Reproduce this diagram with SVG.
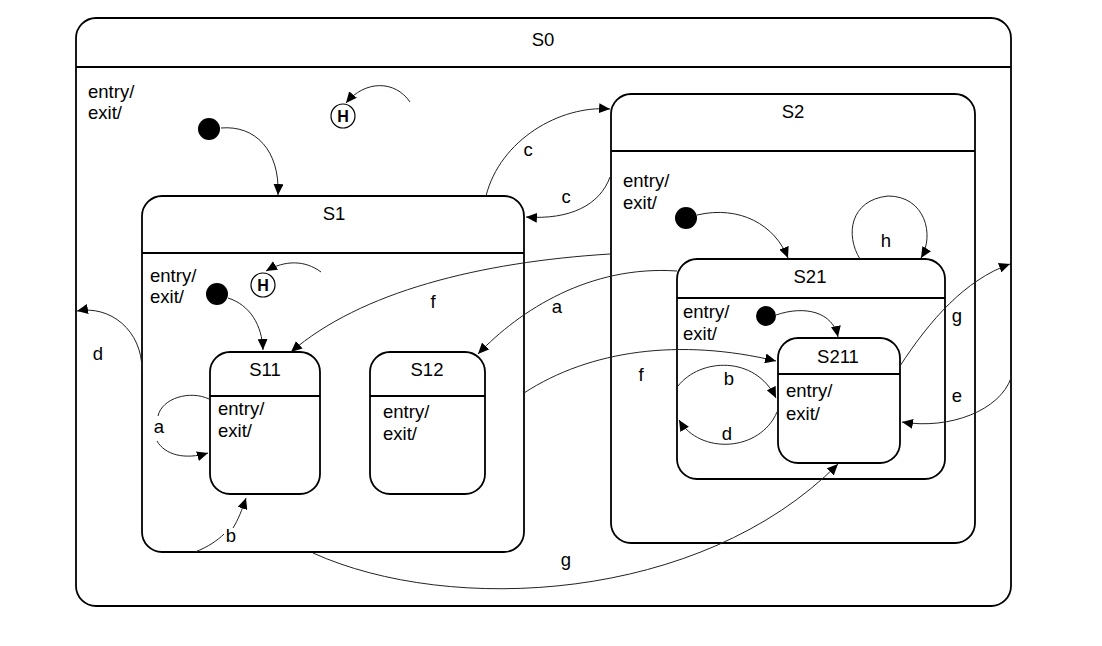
<svg xmlns="http://www.w3.org/2000/svg" width="1102" height="646" viewBox="0 0 1102 646">
<defs>
<marker id="ah" markerWidth="12" markerHeight="10" refX="11" refY="5" orient="auto" markerUnits="userSpaceOnUse">
<path d="M0,0 L11,5 L0,10 Z" fill="#000"/>
</marker>
<style>
.box{fill:#fff;stroke:#000;stroke-width:1.8}
.sep{stroke:#000;stroke-width:1.8}
text{font-family:"Liberation Sans",Arial,sans-serif;font-size:18.5px;fill:#000}
.t{text-anchor:middle}
.c{fill:none;stroke:#222;stroke-width:1}
.ca{fill:none;stroke:#222;stroke-width:1;marker-end:url(#ah)}
.dot{fill:#000}
.hist{fill:#fff;stroke:#000;stroke-width:1.2}
.hl{font-size:16px;font-weight:bold;text-anchor:middle}
</style>
</defs>
<rect width="1102" height="646" fill="#fff"/>
<g id="S0">
<rect class="box" x="76" y="18" width="935" height="588" rx="20"/>
<line class="sep" x1="76" y1="67" x2="1011" y2="67"/>
<text class="t" x="543" y="46">S0</text>
<text x="88" y="98">entry/</text>
<text x="88" y="119">exit/</text>
</g>
<g id="S0_init"><circle class="dot" cx="209" cy="129" r="11"/></g>
<g id="S0_hist"><circle class="hist" cx="343" cy="116" r="12"/><text class="hl" x="343" y="122">H</text></g>
<g id="S1">
<rect class="box" x="142" y="196" width="382" height="356" rx="20"/>
<line class="sep" x1="142" y1="253" x2="524" y2="253"/>
<text class="t" x="334" y="220">S1</text>
<text x="150" y="282">entry/</text>
<text x="150" y="303">exit/</text>
</g>
<g id="S1_init"><circle class="dot" cx="217" cy="294" r="11"/></g>
<g id="S1_hist"><circle class="hist" cx="263" cy="285" r="12"/><text class="hl" x="263" y="291">H</text></g>
<g id="S11">
<rect class="box" x="210" y="352" width="110" height="142" rx="20"/>
<line class="sep" x1="210" y1="396" x2="320" y2="396"/>
<text class="t" x="265" y="376">S11</text>
<text x="218" y="415">entry/</text>
<text x="218" y="437">exit/</text>
</g>
<g id="S12">
<rect class="box" x="370" y="352" width="115" height="142" rx="20"/>
<line class="sep" x1="370" y1="396" x2="485" y2="396"/>
<text class="t" x="427" y="376">S12</text>
<text x="383" y="418">entry/</text>
<text x="383" y="440">exit/</text>
</g>
<g id="S2">
<rect class="box" x="611" y="94" width="364" height="449" rx="20"/>
<line class="sep" x1="611" y1="151" x2="975" y2="151"/>
<text class="t" x="793" y="118">S2</text>
<text x="623" y="187">entry/</text>
<text x="623" y="209">exit/</text>
</g>
<g id="S2_init"><circle class="dot" cx="686" cy="218" r="11"/></g>
<g id="S21">
<rect class="box" x="677" y="259" width="268" height="220" rx="20"/>
<line class="sep" x1="677" y1="298" x2="945" y2="298"/>
<text class="t" x="810" y="283">S21</text>
<text x="683" y="318">entry/</text>
<text x="683" y="340">exit/</text>
</g>
<g id="S21_init"><circle class="dot" cx="766" cy="316" r="10"/></g>
<g id="S211">
<rect class="box" x="778" y="338" width="122" height="125" rx="20"/>
<line class="sep" x1="778" y1="374" x2="900" y2="374"/>
<text class="t" x="838" y="363">S211</text>
<text x="786" y="397">entry/</text>
<text x="786" y="420">exit/</text>
</g>
<g id="connectors">
<path class="ca" d="M221,128 C255,125 280,150 278,195"/>
<path class="ca" d="M410,102 C395,80 365,80 346,103"/>
<path class="ca" d="M228,298 C250,305 262,325 263,350"/>
<path class="ca" d="M321,272 C305,260 285,260 266,271"/>
<path class="ca" d="M486,196 C500,140 560,105 610,109"/>
<text class="t" x="528" y="156">c</text>
<path class="ca" d="M610,177 C600,205 570,220 526,217"/>
<text class="t" x="566" y="203">c</text>
<path class="ca" d="M142,370 C142,330 110,305 77,311"/>
<text class="t" x="98" y="360">d</text>
<path class="ca" d="M610,254 C480,262 360,292 291,352"/>
<text class="t" x="433" y="308">f</text>
<path class="ca" d="M677,271 C590,265 520,310 478,354"/>
<text class="t" x="557" y="313">a</text>
<path class="ca" d="M524,393 C590,350 680,338 776,361"/>
<text class="t" x="641" y="381">f</text>
<path class="c" d="M209,399 C190,390 162,398 158,416"/>
<path class="ca" d="M157,441 C165,455 185,460 208,453"/>
<text class="t" x="159" y="433">a</text>
<path class="c" d="M195,552 C208,547 218,540 224,534"/>
<path class="ca" d="M233,528 C238,520 242,510 246,498"/>
<text class="t" x="231" y="542">b</text>
<path class="ca" d="M313,553 C450,615 700,603 838,464"/>
<text class="t" x="566" y="566">g</text>
<path class="ca" d="M900,366 C930,320 965,280 1010,264"/>
<text class="t" x="957" y="322">g</text>
<path class="ca" d="M1011,378 C1000,410 950,430 902,422"/>
<text class="t" x="957" y="402">e</text>
<path class="ca" d="M860,259 C845,235 850,200 888,196 C925,196 935,235 921,258"/>
<text class="t" x="886" y="247">h</text>
<path class="ca" d="M697,215 C740,205 775,225 788,258"/>
<path class="ca" d="M776,315 C805,305 833,312 838,337"/>
<path class="ca" d="M678,386 C700,358 755,355 776,398"/>
<text class="t" x="729" y="385">b</text>
<path class="ca" d="M777,412 C760,452 700,455 679,420"/>
<text class="t" x="727" y="440">d</text>
</g>
</svg>
